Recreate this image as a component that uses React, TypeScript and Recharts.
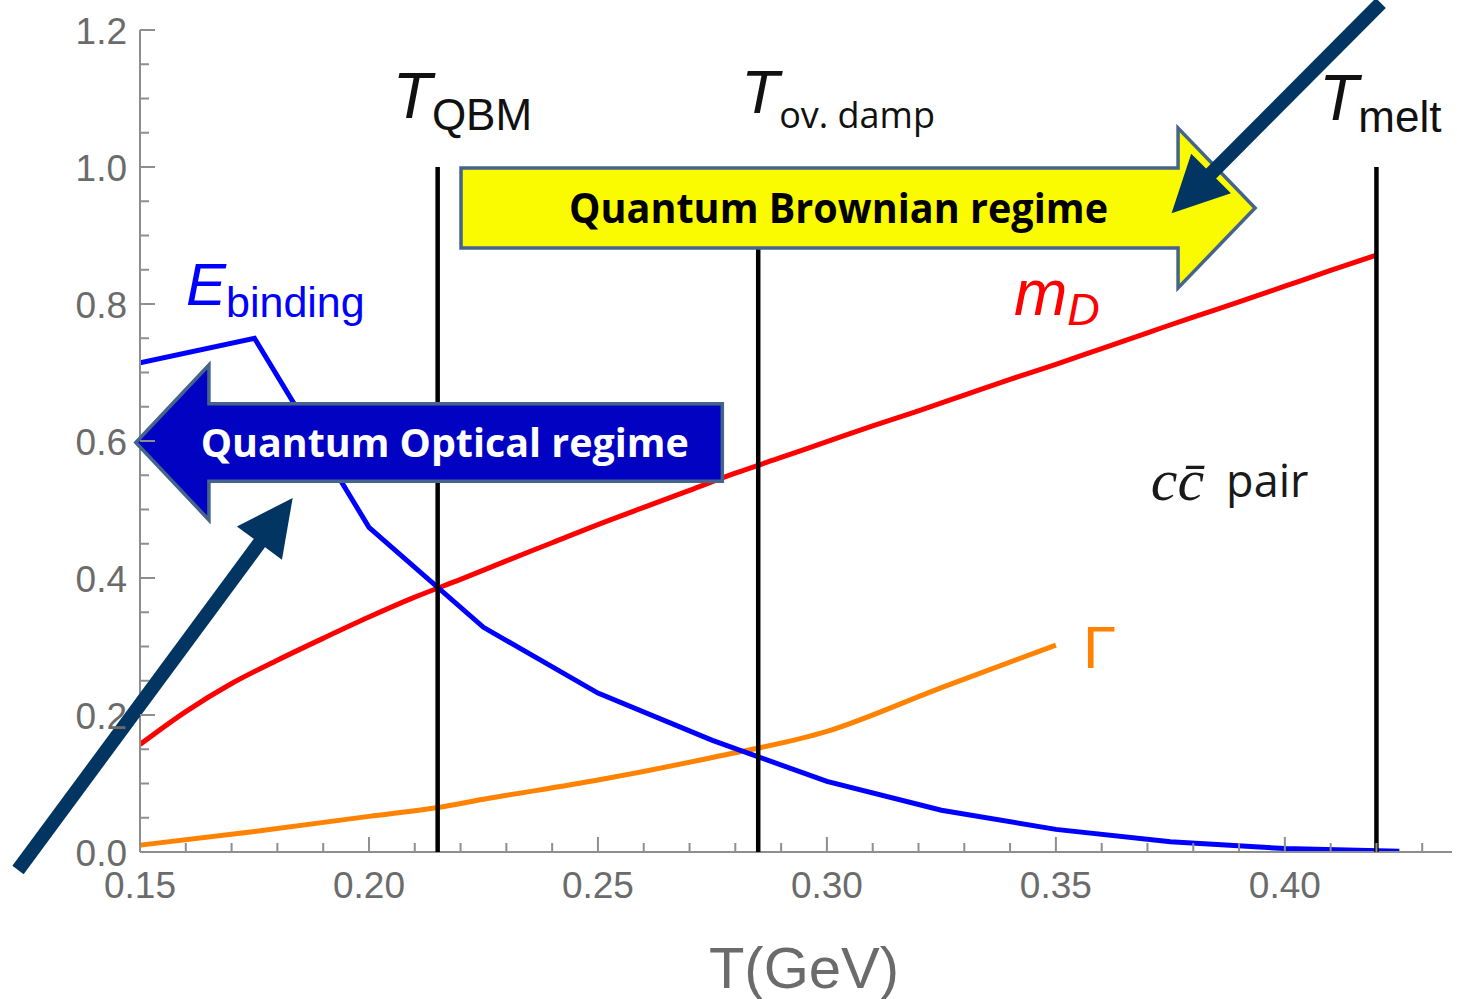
import React from 'react';
import { LineChart, Line, XAxis, YAxis, ReferenceLine, ReferenceArea, ReferenceDot } from 'recharts';

// ---------- axis ticks ----------
const xTicks = [0.15, 0.16, 0.17, 0.18, 0.19, 0.2, 0.21, 0.22, 0.23, 0.24, 0.25, 0.26, 0.27, 0.28, 0.29, 0.3, 0.31, 0.32, 0.33, 0.34, 0.35, 0.36, 0.37, 0.38, 0.39, 0.4, 0.41, 0.42, 0.43];
const xMajorTicks = [0.15, 0.2, 0.25, 0.3, 0.35, 0.4];
const yTicks = [0, 0.05, 0.1, 0.15, 0.2, 0.25, 0.3, 0.35, 0.4, 0.45, 0.5, 0.55, 0.6, 0.65, 0.7, 0.75, 0.8, 0.85, 0.9, 0.95, 1.0, 1.05, 1.1, 1.15, 1.2];
const yMajorTicks = [0, 0.2, 0.4, 0.6, 0.8, 1.0, 1.2];
const xDomain = [0.15, 0.4365];
const yDomain = [0, 1.2];

// ---------- series ----------
const bindingT = [0.15, 0.175, 0.2, 0.225, 0.25, 0.275, 0.3, 0.325, 0.35, 0.375, 0.4, 0.425];
const bindingE = [0.714, 0.75, 0.474, 0.328, 0.232, 0.163, 0.103, 0.061, 0.033, 0.015, 0.005, 0.001];

const gammaT = [0.15, 0.175, 0.2, 0.215, 0.225, 0.25, 0.275, 0.3, 0.325, 0.35];
const gammaV = [0.01, 0.03, 0.052, 0.065, 0.077, 0.105, 0.138, 0.176, 0.24, 0.302];

const mDT = [0.15, 0.16, 0.17, 0.18, 0.19, 0.2, 0.21, 0.22, 0.23, 0.24, 0.25, 0.26, 0.27, 0.28, 0.29, 0.3, 0.31, 0.32, 0.33, 0.34, 0.35, 0.36, 0.37, 0.38, 0.39, 0.4, 0.41, 0.42];
const mDV = [0.157, 0.205, 0.246, 0.28, 0.312, 0.343, 0.372, 0.398, 0.425, 0.4515, 0.478, 0.503, 0.528, 0.553, 0.576, 0.599, 0.622, 0.644, 0.667, 0.69, 0.712, 0.735, 0.758, 0.781, 0.803, 0.826, 0.849, 0.8715];

// vertical temperature markers: T_QBM, T_ov.damp, T_melt
const markerT = [0.215, 0.285, 0.42];
const markerTop = 1.0;

const bindingData = bindingT.map((x, i) => ({ x, y: bindingE[i] }));
const gammaData = gammaT.map((x, i) => ({ x, y: gammaV[i] }));
const mDData = mDT.map((x, i) => ({ x, y: mDV[i] }));

// ---------- styles ----------
const AXIS = '#8e8e8e';
const LABEL = '#6b6b6b';
const SANS = 'Liberation Sans, Arial, sans-serif';
const BOLD = '"Open Sans", "Noto Sans", sans-serif';
const NAVY = '#023561';
const ARROW_EDGE = '#45648c';

const isMajor = (v: number, majors: number[]) => majors.some((m) => Math.abs(m - v) < 1e-6);

const BottomTick = (p: any) => {
  const v = p.payload.value;
  const major = isMajor(v, xMajorTicks);
  return (
    <g>
      <line x1={p.x} x2={p.x} y1={p.y} y2={p.y - (major ? 15 : 9)} stroke={AXIS} strokeWidth={2} />
      {major && (
        <text x={p.x} y={p.y + 46} textAnchor="middle" fontSize={37} fill={LABEL} fontFamily={SANS}>
          {v.toFixed(2)}
        </text>
      )}
    </g>
  );
};
const TopTick = (p: any) => {
  const major = isMajor(p.payload.value, xMajorTicks);
  return <line x1={p.x} x2={p.x} y1={p.y} y2={p.y + (major ? 15 : 9)} stroke={AXIS} strokeWidth={2} />;
};
const LeftTick = (p: any) => {
  const v = p.payload.value;
  const major = isMajor(v, yMajorTicks);
  return (
    <g>
      <line x1={p.x} x2={p.x + (major ? 15 : 9)} y1={p.y} y2={p.y} stroke={AXIS} strokeWidth={2} />
      {major && (
        <text x={p.x - 13} y={p.y + 14} textAnchor="end" fontSize={37} fill={LABEL} fontFamily={SANS}>
          {v.toFixed(1)}
        </text>
      )}
    </g>
  );
};
const RightTick = (p: any) => {
  const major = isMajor(p.payload.value, yMajorTicks);
  return <line x1={p.x} x2={p.x - (major ? 15 : 9)} y1={p.y} y2={p.y} stroke={AXIS} strokeWidth={2} />;
};

// ---------- annotation shapes ----------
const BlockArrow = (p: any) => {
  const { x, y, width: w, height: h, dir, fill, text, textColor, textX, textLength, fontSize } = p;
  const bt = y + h * 0.25;
  const bb = y + h * 0.75;
  let pts: number[][];
  if (dir === 'right') {
    const xh = x + w * 0.903;
    pts = [[x, bt], [xh, bt], [xh, y], [x + w, y + h / 2], [xh, y + h], [xh, bb], [x, bb]];
  } else {
    const xh = x + w * 0.1247;
    pts = [[x + w, bt], [xh, bt], [xh, y], [x, y + h / 2], [xh, y + h], [xh, bb], [x + w, bb]];
  }
  return (
    <g>
      <polygon points={pts.map((q) => q.join(',')).join(' ')} fill={fill} stroke={ARROW_EDGE} strokeWidth={3.5} strokeLinejoin="miter" />
      <text
        x={x + w * textX}
        y={y + h * 0.594}
        textAnchor="middle"
        fontSize={fontSize}
        fontWeight="bold"
        fill={textColor}
        fontFamily={BOLD}
        textLength={textLength}
        lengthAdjust="spacingAndGlyphs"
      >
        {text}
      </text>
    </g>
  );
};

const NavyArrow = (p: any) => {
  const { x, y, width: w, height: h, toward } = p;
  let sx: number, sy: number, tx: number, ty: number;
  if (toward === 'upRight') {
    sx = x; sy = y + h; tx = x + w; ty = y;
  } else {
    sx = x + w; sy = y; tx = x; ty = y + h;
  }
  const len = Math.hypot(tx - sx, ty - sy);
  const ux = (tx - sx) / len;
  const uy = (ty - sy) / len;
  const L = 56;
  const W = 28;
  const bx = tx - ux * L;
  const by = ty - uy * L;
  const px = -uy;
  const py = ux;
  return (
    <g>
      <line x1={sx} y1={sy} x2={bx + ux * 2} y2={by + uy * 2} stroke={NAVY} strokeWidth={14} />
      <polygon points={`${tx},${ty} ${bx + px * W},${by + py * W} ${bx - px * W},${by - py * W}`} fill={NAVY} />
    </g>
  );
};

const mkText = (render: (cx: number, cy: number) => React.ReactNode) => (p: any) => <g>{render(p.cx, p.cy)}</g>;

const App = () => {
  return (
    <div style={{ position: 'absolute', left: 0, top: 0, width: 1457, height: 999, background: '#fff', overflow: 'hidden' }}>
      <LineChart width={1457} height={999} margin={{ top: 30, right: 5, bottom: 87, left: 80 }}>
        <XAxis
          dataKey="x"
          type="number"
          domain={xDomain}
          allowDataOverflow
          ticks={xTicks}
          interval={0}
          tickSize={0}
          tickMargin={0}
          tickLine={false}
          height={60}
          axisLine={{ stroke: AXIS, strokeWidth: 2 }}
          tick={<BottomTick />}
          label={{
            content: (lp: any) => {
              const vb = lp.viewBox || {};
              return (
                <text x={vb.x + vb.width / 2 + 8} y={vb.y + 136} textAnchor="middle" fontSize={58} fill={LABEL} fontFamily={SANS}>
                  T(GeV)
                </text>
              );
            },
          }}
        />
        <XAxis
          xAxisId="top"
          orientation="top"
          dataKey="x"
          type="number"
          domain={xDomain}
          allowDataOverflow
          ticks={xTicks}
          interval={0}
          tickSize={0}
          tickMargin={0}
          tickLine={false}
          height={0}
          axisLine={{ stroke: AXIS, strokeWidth: 2 }}
          tick={<TopTick />}
        />
        <YAxis
          type="number"
          domain={yDomain}
          allowDataOverflow
          ticks={yTicks}
          interval={0}
          tickSize={0}
          tickMargin={0}
          tickLine={false}
          width={60}
          axisLine={{ stroke: AXIS, strokeWidth: 2 }}
          tick={<LeftTick />}
        />
        <YAxis
          yAxisId="right"
          orientation="right"
          type="number"
          domain={yDomain}
          allowDataOverflow
          ticks={yTicks}
          interval={0}
          tickSize={0}
          tickMargin={0}
          tickLine={false}
          width={0}
          axisLine={{ stroke: AXIS, strokeWidth: 2 }}
          tick={<RightTick />}
        />

        <Line data={gammaData} dataKey="y" type="monotone" stroke="#ff8200" strokeWidth={5} dot={false} isAnimationActive={false} />
        <Line data={mDData} dataKey="y" type="monotone" stroke="#ff0000" strokeWidth={5} dot={false} isAnimationActive={false} />
        <Line data={bindingData} dataKey="y" type="linear" stroke="#0000ff" strokeWidth={5} dot={false} isAnimationActive={false} />

        {markerT.map((t) => (
          <ReferenceLine key={t} segment={[{ x: t, y: 0 }, { x: t, y: markerTop }]} stroke="#000" strokeWidth={4.5} ifOverflow="visible" zIndex={500} />
        ))}

        {/* regime arrows */}
        <ReferenceArea
          x1={0.2201}
          x2={0.3935}
          y1={0.8234}
          y2={1.0569}
          ifOverflow="visible"
          zIndex={900}
          shape={(p: any) => (
            <BlockArrow {...p} dir="right" fill="#fafa00" text="Quantum Brownian regime" textColor="#000" textX={0.4754} textLength={539} fontSize={41} />
          )}
        />
        <ReferenceArea
          x1={0.14908}
          x2={0.27716}
          y1={0.48467}
          y2={0.71095}
          ifOverflow="visible"
          zIndex={900}
          shape={(p: any) => (
            <BlockArrow {...p} dir="left" fill="#0202c2" text="Quantum Optical regime" textColor="#fff" textX={0.5267} textLength={488} fontSize={40} />
          )}
        />
        <ReferenceArea
          x1={0.12336}
          x2={0.18334}
          y1={-0.02628}
          y2={0.51679}
          ifOverflow="visible"
          zIndex={950}
          shape={(p: any) => <NavyArrow {...p} toward="upRight" />}
        />
        <ReferenceArea
          x1={0.37526}
          x2={0.42096}
          y1={0.9324}
          y2={1.23942}
          ifOverflow="visible"
          zIndex={950}
          shape={(p: any) => <NavyArrow {...p} toward="downLeft" />}
        />

        {/* text labels */}
        <ReferenceDot x={0.2052} y={1.0715} r={0} ifOverflow="visible" zIndex={1000}
          shape={mkText((cx, cy) => (
            <text x={cx} y={cy} fontFamily={SANS} fill="#111">
              <tspan fontStyle="italic" fontSize={64}>T</tspan>
              <tspan fontSize={44} dy={12}>QBM</tspan>
            </text>
          ))}
        />
        <ReferenceDot x={0.2813} y={1.0788} r={0} ifOverflow="visible" zIndex={1000}
          shape={mkText((cx, cy) => (
            <text x={cx} y={cy} fill="#111">
              <tspan fontFamily={SANS} fontStyle="italic" fontSize={62}>T</tspan>
              <tspan fontFamily={BOLD} fontSize={36} fontWeight={500} dy={15}>ov. damp</tspan>
            </text>
          ))}
        />
        <ReferenceDot x={0.4075} y={1.0686} r={0} ifOverflow="visible" zIndex={1000}
          shape={mkText((cx, cy) => (
            <text x={cx} y={cy} fontFamily={SANS} fill="#111">
              <tspan fontStyle="italic" fontSize={64}>T</tspan>
              <tspan fontSize={44} dy={12}>melt</tspan>
            </text>
          ))}
        />
        <ReferenceDot x={0.16004} y={0.79854} r={0} ifOverflow="visible" zIndex={1000}
          shape={mkText((cx, cy) => (
            <text x={cx} y={cy} fontFamily={SANS} fill="#0000ff">
              <tspan fontStyle="italic" fontSize={60}>E</tspan>
              <tspan fontSize={43} dy={12}>binding</tspan>
            </text>
          ))}
        />
        <ReferenceDot x={0.34083} y={0.78394} r={0} ifOverflow="visible" zIndex={1000}
          shape={mkText((cx, cy) => (
            <text x={cx} y={cy} fontFamily={SANS} fill="#ff0000" fontStyle="italic">
              <tspan fontSize={64}>m</tspan>
              <tspan fontSize={45} dy={10}>D</tspan>
            </text>
          ))}
        />
        <ReferenceDot x={0.3559} y={0.26861} r={0} ifOverflow="visible" zIndex={1000}
          shape={mkText((cx, cy) => (
            <text x={cx} y={cy} fontFamily={SANS} fill="#ff8200" fontSize={60}>
              Γ
            </text>
          ))}
        />
        <ReferenceDot x={0.37074} y={0.51387} r={0} ifOverflow="visible" zIndex={1000}
          shape={mkText((cx, cy) => (
            <text x={cx} y={cy} fill="#1a1a1a">
              <tspan fontFamily="Liberation Serif, serif" fontStyle="italic" fontSize={60}>{'cc\u0304'}</tspan>
              <tspan fontFamily={BOLD} fontSize={45} fontWeight={500} dx={22} dy={-3}>pair</tspan>
            </text>
          ))}
        />
      </LineChart>
    </div>
  );
};

export default App;
